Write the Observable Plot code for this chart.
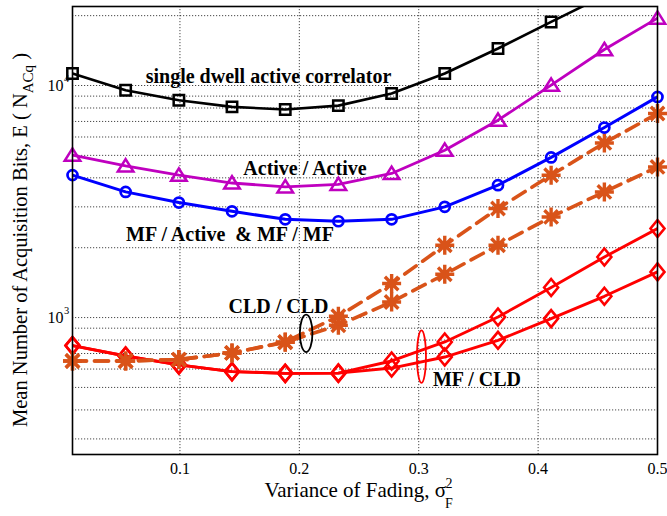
<!DOCTYPE html>
<html><head><meta charset="utf-8">
<script src="https://cdn.jsdelivr.net/npm/d3@7"></script>
<script src="https://cdn.jsdelivr.net/npm/@observablehq/plot@0.6"></script>
<style>
body{margin:0;background:#fff;}
#chart{width:667px;height:516px;}
</style>
</head><body><div id="chart"></div>
<script>
// ---- data ----
const variance = [0.01, 0.0545, 0.0991, 0.1436, 0.1882, 0.2327, 0.2773, 0.3218, 0.3664, 0.4109, 0.4555, 0.5];
const singleDwell = [11260, 9540, 8640, 8090, 7880, 8190, 9240, 11260, 14440, 18790, 24400, 31600];
const activeActive = [5010, 4500, 4110, 3800, 3660, 3750, 4180, 5260, 7090, 10030, 14290, 19500];
const mfActive = [4110, 3480, 3130, 2870, 2650, 2600, 2650, 3000, 3720, 4900, 6590, 8930];
const cldUpper = [650, 650, 659, 704, 785, 1013, 1402, 2049, 2951, 4106, 5656, 7574];
const cldLower = [650, 650, 659, 704, 782, 927, 1167, 1537, 2049, 2714, 3478, 4458];
const mfCldUpper = [757, 683, 625, 585, 575, 576, 650, 785, 1006, 1347, 1824, 2419];
const mfCldLower = [757, 683, 625, 585, 575, 576, 606, 676, 798, 990, 1235, 1573];

const xTicks = [0.1, 0.2, 0.3, 0.4, 0.5];
const yDecades = [1000, 10000];
const yExponents = ["3", "4"];
const yGrid = [300, 400, 500, 600, 700, 800, 900, 1000, 2000, 3000, 4000, 5000, 6000, 7000, 8000, 9000, 10000, 20000];

const labelTexts = ["single dwell active correlator", "Active / Active", "MF / Active\u00a0 & MF / MF", "CLD / CLD", "MF / CLD"];
const labelX = [0.1742, 0.2047, 0.1419, 0.1825, 0.3488];
const labelY = [10900, 4375, 2279, 1115, 539];

const blackEllipseX = [0.2057], blackEllipseY = [855];
const redEllipseX = [0.3023], redEllipseY = [679];

const yMin = 257, yMax = 21900;

// ---- helpers ----
const rows = vals => variance.map((x, i) => ({x, y: vals[i]}));
const visible = vals => rows(vals).filter(d => d.y <= yMax);

const squareSym = {draw(c){ c.rect(-5.2, -5.2, 10.4, 10.4); }};
const triangleSym = {draw(c){ c.moveTo(0, -6.8); c.lineTo(7.8, 5.6); c.lineTo(-7.8, 5.6); c.closePath(); }};
const circleSym = {draw(c){ c.moveTo(5, 0); c.arc(0, 0, 5, 0, 2 * Math.PI); c.closePath(); }};
const diamondSym = {draw(c){ c.moveTo(0, -8.5); c.lineTo(7, 0); c.lineTo(0, 8.5); c.lineTo(-7, 0); c.closePath(); }};
const starSym = {draw(c){
  const r = 9.5, d = r * Math.SQRT1_2;
  c.moveTo(-r, 0); c.lineTo(r, 0);
  c.moveTo(0, -r); c.lineTo(0, r);
  c.moveTo(-d, -d); c.lineTo(d, d);
  c.moveTo(-d, d); c.lineTo(d, -d);
}};
function ellipseSym(rx, ry){
  const k = 0.5523;
  return {draw(c){
    c.moveTo(rx, 0);
    c.bezierCurveTo(rx, ry * k, rx * k, ry, 0, ry);
    c.bezierCurveTo(-rx * k, ry, -rx, ry * k, -rx, 0);
    c.bezierCurveTo(-rx, -ry * k, -rx * k, -ry, 0, -ry);
    c.bezierCurveTo(rx * k, -ry, rx, -ry * k, rx, 0);
    c.closePath();
  }};
}

const gridStyle = {stroke: "#000", strokeWidth: 0.8, strokeDasharray: "1.2,1.8", strokeOpacity: 0.9};

const ORANGE = "#d95319", RED = "#ff0000", BLUE = "#0000ff", MAGENTA = "#bf00bf";

const plot = Plot.plot({
  width: 667, height: 516,
  marginLeft: 72, marginRight: 10, marginTop: 6, marginBottom: 62,
  style: {fontFamily: "'Liberation Serif', 'Times New Roman', serif", fontSize: "16px", background: "#fff", overflow: "visible"},
  x: {domain: [0.01, 0.5]},
  y: {type: "log", domain: [yMin, yMax], axis: null},
  marks: [
    Plot.ruleY(yGrid, {y: d => d, ...gridStyle}),
    Plot.ruleX(xTicks, {x: d => d, ...gridStyle}),
    Plot.axisX({ticks: xTicks, tickSize: 0, tickPadding: 8, fontSize: 16, label: null, tickFormat: d => String(d)}),
    Plot.text(yDecades, {y: d => d, frameAnchor: "left", text: () => "10", dx: -9, textAnchor: "end", fontSize: 16, fill: "#000"}),
    Plot.text(yDecades, {y: d => d, frameAnchor: "left", text: (d, i) => yExponents[i], dx: -8.5, dy: -7, textAnchor: "start", fontSize: 10.5, fill: "#000"}),

    // MF / CLD (red)
    Plot.line(rows(mfCldLower), {x: "x", y: "y", stroke: RED, strokeWidth: 2.9, clip: true}),
    Plot.line(rows(mfCldUpper), {x: "x", y: "y", stroke: RED, strokeWidth: 2.9, clip: true}),
    Plot.dot(rows(mfCldLower), {x: "x", y: "y", symbol: diamondSym, stroke: RED, strokeWidth: 2.6, fill: "none"}),
    Plot.dot(rows(mfCldUpper), {x: "x", y: "y", symbol: diamondSym, stroke: RED, strokeWidth: 2.6, fill: "none"}),

    // CLD / CLD (orange dashed)
    Plot.line(rows(cldLower), {x: "x", y: "y", stroke: ORANGE, strokeWidth: 3.6, strokeDasharray: "14,8", clip: true}),
    Plot.line(rows(cldUpper), {x: "x", y: "y", stroke: ORANGE, strokeWidth: 3.6, strokeDasharray: "14,8", clip: true}),
    Plot.dot(rows(cldLower), {x: "x", y: "y", symbol: starSym, stroke: ORANGE, strokeWidth: 3.4, fill: "none"}),
    Plot.dot(rows(cldUpper), {x: "x", y: "y", symbol: starSym, stroke: ORANGE, strokeWidth: 3.4, fill: "none"}),

    // MF / Active & MF / MF (blue)
    Plot.line(rows(mfActive), {x: "x", y: "y", stroke: BLUE, strokeWidth: 3, clip: true}),
    Plot.dot(rows(mfActive), {x: "x", y: "y", symbol: circleSym, stroke: BLUE, strokeWidth: 2.7, fill: "none"}),

    // Active / Active (magenta)
    Plot.line(rows(activeActive), {x: "x", y: "y", stroke: MAGENTA, strokeWidth: 2.8, clip: true}),
    Plot.dot(visible(activeActive), {x: "x", y: "y", symbol: triangleSym, stroke: MAGENTA, strokeWidth: 2.5, fill: "none"}),

    // single dwell active correlator (black)
    Plot.line(rows(singleDwell), {x: "x", y: "y", stroke: "#000", strokeWidth: 2.6, clip: true}),
    Plot.dot(visible(singleDwell), {x: "x", y: "y", symbol: squareSym, stroke: "#000", strokeWidth: 2.5, fill: "none"}),

    // annotations
    Plot.text(labelTexts, {x: (d, i) => labelX[i], y: (d, i) => labelY[i], text: d => d, fontSize: 20, fontWeight: "bold", fill: "#000", textAnchor: "middle", lineAnchor: "middle"}),
    Plot.dot(blackEllipseX, {x: d => d, y: (d, i) => blackEllipseY[i], symbol: ellipseSym(6.3, 18.7), stroke: "#000", strokeWidth: 1.8, fill: "none"}),
    Plot.dot(redEllipseX, {x: d => d, y: (d, i) => redEllipseY[i], symbol: ellipseSym(4.5, 26.3), stroke: RED, strokeWidth: 1.8, fill: "none"}),

    Plot.frame({stroke: "#000", strokeWidth: 1.6})
  ]
});

document.getElementById("chart").appendChild(plot);

// axis titles (with sub/superscripts)
const svg = d3.select(plot);
const yt = svg.append("text")
  .attr("transform", "translate(27,240) rotate(-90)")
  .attr("text-anchor", "middle")
  .attr("font-size", 20.5)
  .attr("fill", "#000");
yt.append("tspan").text("Mean Number of Acquisition Bits, E ( N");
yt.append("tspan").attr("dy", 6).attr("font-size", 15).text("ACq");
yt.append("tspan").attr("dy", -6).text(" )");

svg.append("text")
  .attr("x", 446).attr("y", 497)
  .attr("text-anchor", "end")
  .attr("font-size", 21)
  .attr("fill", "#000")
  .text("Variance of Fading, σ");
svg.append("text")
  .attr("x", 449).attr("y", 488)
  .attr("font-size", 14)
  .attr("fill", "#000")
  .text("2");
svg.append("text")
  .attr("x", 449).attr("y", 508)
  .attr("font-size", 14)
  .attr("fill", "#000")
  .text("F");
</script>
</body></html>
